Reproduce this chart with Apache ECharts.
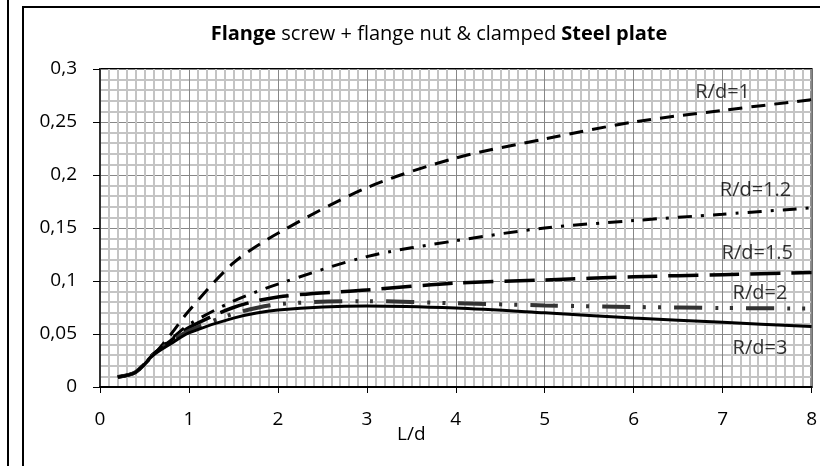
<!DOCTYPE html>
<html>
<head>
<meta charset="utf-8">
<style>
  html, body { margin: 0; padding: 0; background: #fff; }
  #chart { width: 820px; height: 466px; }
</style>
<script src="https://cdn.jsdelivr.net/npm/echarts@6/dist/echarts.min.js"></script>
</head>
<body>
<div id="chart"></div>
<script>
// L/d sample points shared by every curve
var ld = [0.2, 0.4, 0.6, 0.8, 1, 1.5, 2, 3, 4, 5, 6, 7, 8];

var rd1   = [0.0095, 0.014, 0.030, 0.050, 0.072, 0.117, 0.145, 0.188, 0.216, 0.234, 0.250, 0.261, 0.271];
var rd12  = [0.0095, 0.014, 0.031, 0.045, 0.059, 0.081, 0.097, 0.123, 0.138, 0.150, 0.157, 0.163, 0.169];
var rd15  = [0.0095, 0.014, 0.031, 0.044, 0.056, 0.075, 0.085, 0.0915, 0.098, 0.101, 0.104, 0.106, 0.108];
var rd2   = [0.0095, 0.014, 0.031, 0.043, 0.053, 0.069, 0.078, 0.081, 0.079, 0.077, 0.0755, 0.0745, 0.074];
var rd3   = [0.0095, 0.014, 0.030, 0.041, 0.051, 0.065, 0.0726, 0.0765, 0.0745, 0.070, 0.065, 0.061, 0.057];

// curve labels (text, L/d, value)
var noteText = ['R/d=1', 'R/d=1.2', 'R/d=1.5', 'R/d=2', 'R/d=3'];
var noteX = [7.0, 7.37, 7.39, 7.42, 7.42];
var noteY = [0.278, 0.186, 0.126, 0.0887, 0.0368];

var FONT = '"Open Sans", sans-serif';

function pairs(ys) {
  return ld.map(function (x, i) { return [x, ys[i]]; });
}

var chart = echarts.init(document.getElementById('chart'), null, { renderer: 'canvas' });

function curve(name, ys, color, width, dash) {
  return {
    name: name,
    type: 'line',
    data: pairs(ys),
    smooth: 0.3,
    showSymbol: false,
    silent: true,
    lineStyle: { color: color, width: width, type: dash, cap: 'butt' },
    z: 3
  };
}

var option = {
  backgroundColor: '#fff',
  animation: false,
  title: {
    text: '{b|Flange} screw + flange nut & clamped {b|Steel plate}',
    left: 434,
    top: 19,
    textAlign: 'center',
    textStyle: {
      fontFamily: FONT, fontSize: 20, color: '#000', fontWeight: 'normal',
      rich: { b: { fontFamily: FONT, fontSize: 20, fontWeight: 'bold', color: '#000' } }
    }
  },
  grid: {
    left: 100, top: 69, width: 719, height: 318,
    show: true, borderColor: '#000', borderWidth: 2, backgroundColor: '#fff'
  },
  xAxis: {
    type: 'value', min: 0, max: 8, interval: 1,
    axisLine: { lineStyle: { color: '#000', width: 2 } },
    axisTick: { show: true, length: 6, lineStyle: { color: '#000', width: 1 } },
    axisLabel: { color: '#000', fontFamily: FONT, fontSize: 19, margin: 23, alignMaxLabel: 'center' },
    splitLine: { show: true, lineStyle: { color: '#878787', width: 1 } },
    minorTick: { show: true, splitNumber: 10, length: 0 },
    minorSplitLine: { show: true, lineStyle: { color: '#c4c4c4', width: 2 } }
  },
  yAxis: {
    type: 'value', min: 0, max: 0.3, interval: 0.05,
    axisLine: { show: true, lineStyle: { color: '#333', width: 2 } },
    axisTick: { show: true, length: 7, lineStyle: { color: '#000', width: 1 } },
    axisLabel: {
      color: '#000', fontFamily: FONT, fontSize: 19, margin: 23,
      formatter: function (v) { return String(Math.round(v * 100) / 100).replace('.', ','); }
    },
    splitLine: { show: true, lineStyle: { color: '#878787', width: 1 } },
    minorTick: { show: true, splitNumber: 5, length: 0 },
    minorSplitLine: { show: true, lineStyle: { color: '#c4c4c4', width: 2 } }
  },
  graphic: [
    { type: 'line', shape: { x1: 8, y1: 0, x2: 8, y2: 466 }, style: { stroke: '#000', lineWidth: 2 }, silent: true },
    { type: 'rect', shape: { x: 23, y: 7, width: 820, height: 480 }, style: { fill: null, stroke: '#000', lineWidth: 2 }, silent: true },
    { type: 'text', left: 397, top: 425, style: { text: 'L/d', fontFamily: FONT, fontSize: 19, fill: '#000' }, silent: true }
  ],
  series: [
    curve('R/d=1', rd1, '#000', 3, [14, 9]),
    curve('R/d=1.2', rd12, '#000', 3, [14, 9, 3, 9]),
    curve('R/d=1.5', rd15, '#000', 3.5, [30, 11]),
    curve('R/d=2', rd2, '#333', 4, [28, 13, 3, 12, 3, 13]),
    curve('R/d=3', rd3, '#000', 3, 'solid'),
    {
      type: 'scatter',
      symbolSize: 0,
      silent: true,
      data: noteText.map(function (t, i) { return { name: t, value: [noteX[i], noteY[i]] }; }),
      label: { show: true, position: 'inside', formatter: '{b}', color: '#000', fontFamily: FONT, fontSize: 20 },
      z: 5
    }
  ]
};

chart.setOption(option);
</script>
</body>
</html>
